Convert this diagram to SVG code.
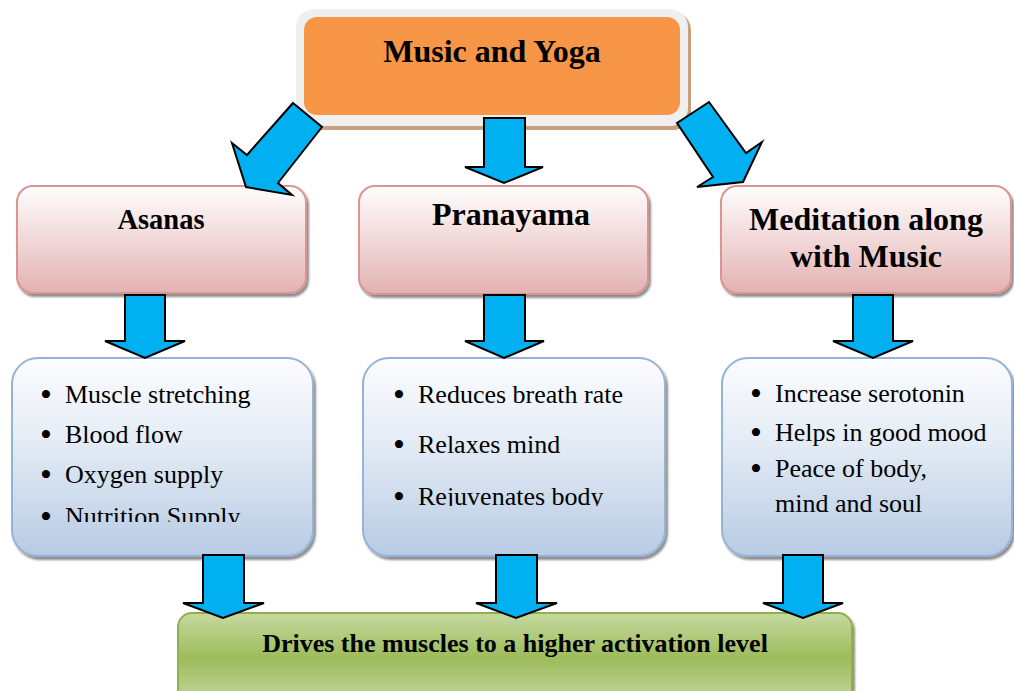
<svg xmlns="http://www.w3.org/2000/svg" width="1014" height="691" viewBox="0 0 1014 691">
  <defs>
    <linearGradient id="pinkFill" x1="0" y1="0" x2="0" y2="1">
      <stop offset="0" stop-color="#fefdfd"/>
      <stop offset="0.45" stop-color="#f3dcdc"/>
      <stop offset="1" stop-color="#e2b2b1"/>
    </linearGradient>
    <linearGradient id="blueFill" x1="0" y1="0" x2="0" y2="1">
      <stop offset="0" stop-color="#fbfcfe"/>
      <stop offset="0.4" stop-color="#e6edf6"/>
      <stop offset="1" stop-color="#b7cbe3"/>
    </linearGradient>
    <linearGradient id="greenFill" x1="0" y1="0" x2="0" y2="1">
      <stop offset="0" stop-color="#c6d9a0"/>
      <stop offset="0.5" stop-color="#9dbc5b"/>
      <stop offset="1" stop-color="#c3d79c"/>
    </linearGradient>
    <filter id="shadow" x="-5%" y="-5%" width="115%" height="120%">
      <feGaussianBlur in="SourceAlpha" stdDeviation="1.2"/>
      <feOffset dx="2" dy="3" result="off"/>
      <feComponentTransfer><feFuncA type="linear" slope="0.45"/></feComponentTransfer>
      <feMerge><feMergeNode/><feMergeNode in="SourceGraphic"/></feMerge>
    </filter>
    <clipPath id="clipLeft"><rect x="12" y="358" width="301" height="164"/></clipPath>
    <clipPath id="clipMid"><rect x="363" y="358" width="302" height="148"/></clipPath>
    <style>
      .title { font-family: "Liberation Serif", "Times New Roman", serif; font-weight: bold; fill: #000; text-anchor: middle; }
      .item { font-family: "Liberation Serif", "Times New Roman", serif; font-size: 26px; fill: #000; }
      .dot { font-family: "Liberation Serif", "Times New Roman", serif; font-size: 34px; fill: #000; }
      .pink { fill: url(#pinkFill); stroke: #d99594; stroke-width: 2; filter: url(#shadow); }
      .blue { fill: url(#blueFill); stroke: #95b3d7; stroke-width: 2; filter: url(#shadow); }
      .arrow { fill: #00b0f0; stroke: #000; stroke-width: 2; stroke-linejoin: miter; }
    </style>
  </defs>

  <rect width="1014" height="691" fill="#ffffff"/>

  <!-- top node -->
  <g id="music-yoga">
    <rect x="299" y="12" width="392" height="118" rx="18" fill="#c9a07e"/>
    <rect x="296" y="9" width="392" height="117" rx="18" fill="#efefef"/>
    <rect x="304" y="17" width="376" height="98" rx="13" fill="#f79646"/>
    <text class="title" x="492" y="62" font-size="32">Music and Yoga</text>
  </g>

  <!-- second row -->
  <g id="asanas">
    <rect class="pink" x="17" y="186" width="289" height="107" rx="16"/>
    <text class="title" x="161" y="229" font-size="28.5">Asanas</text>
  </g>
  <g id="pranayama">
    <rect class="pink" x="359" y="186" width="289" height="108" rx="16"/>
    <text class="title" x="511" y="225" font-size="32">Pranayama</text>
  </g>
  <g id="meditation">
    <rect class="pink" x="721" y="186" width="290" height="107" rx="16"/>
    <text class="title" x="866" y="230" font-size="32">Meditation along</text>
    <text class="title" x="866" y="267" font-size="32">with Music</text>
  </g>

  <!-- third row -->
  <g id="asanas-effects">
    <rect class="blue" x="12" y="358" width="301" height="198" rx="26"/>
    <g clip-path="url(#clipLeft)">
      <text class="dot" x="40" y="406">•</text><text class="item" x="65" y="403">Muscle stretching</text>
      <text class="dot" x="40" y="446">•</text><text class="item" x="65" y="443">Blood flow</text>
      <text class="dot" x="40" y="486">•</text><text class="item" x="65" y="483">Oxygen supply</text>
      <text class="dot" x="40" y="528">•</text><text class="item" x="65" y="525">Nutrition Supply</text>
    </g>
  </g>
  <g id="pranayama-effects">
    <rect class="blue" x="363" y="358" width="302" height="198" rx="26"/>
    <g clip-path="url(#clipMid)">
      <text class="dot" x="393" y="406">•</text><text class="item" x="418" y="403">Reduces breath rate</text>
      <text class="dot" x="393" y="456">•</text><text class="item" x="418" y="453">Relaxes mind</text>
      <text class="dot" x="393" y="508">•</text><text class="item" x="418" y="505">Rejuvenates body</text>
    </g>
  </g>
  <g id="meditation-effects">
    <rect class="blue" x="722" y="358" width="290" height="198" rx="26"/>
    <text class="dot" x="750" y="405">•</text><text class="item" x="775" y="402">Increase serotonin</text>
    <text class="dot" x="750" y="444">•</text><text class="item" x="775" y="441">Helps in good mood</text>
    <text class="dot" x="750" y="480">•</text><text class="item" x="775" y="477">Peace of body,</text>
    <text class="item" x="775" y="512">mind and soul</text>
  </g>

  <!-- bottom node -->
  <g id="activation">
    <rect x="178" y="613" width="674" height="90" rx="14" fill="url(#greenFill)" stroke="#8fb04e" stroke-width="2" filter="url(#shadow)"/>
    <text class="title" x="515" y="652" font-size="26">Drives the muscles to a higher activation level</text>
  </g>

  <!-- block arrows -->
  <g id="connectors">
    <polygon class="arrow" points="293,103 322,127 278,183 292,195 246,187 232,143 247,155"/>
    <polygon class="arrow" points="484,118 525,118 525,167 543,167 504,183 465,167 484,167"/>
    <polygon class="arrow" points="677,123 709,102 746,153 762,142 743,182 697,187 713,177"/>

    <polygon class="arrow" points="125,295 165,295 165,341 185,341 145,358 105,341 125,341"/>
    <polygon class="arrow" points="484,295 525,295 525,341 544,341 504,358 465,341 484,341"/>
    <polygon class="arrow" points="853,295 893,295 893,341 913,341 873,358 833,341 853,341"/>

    <polygon class="arrow" points="203,555 244,555 244,603 264,603 223,618 183,603 203,603"/>
    <polygon class="arrow" points="496,555 537,555 537,603 557,603 516,618 476,603 496,603"/>
    <polygon class="arrow" points="783,555 823,555 823,603 843,603 803,618 763,603 783,603"/>
  </g>
</svg>
